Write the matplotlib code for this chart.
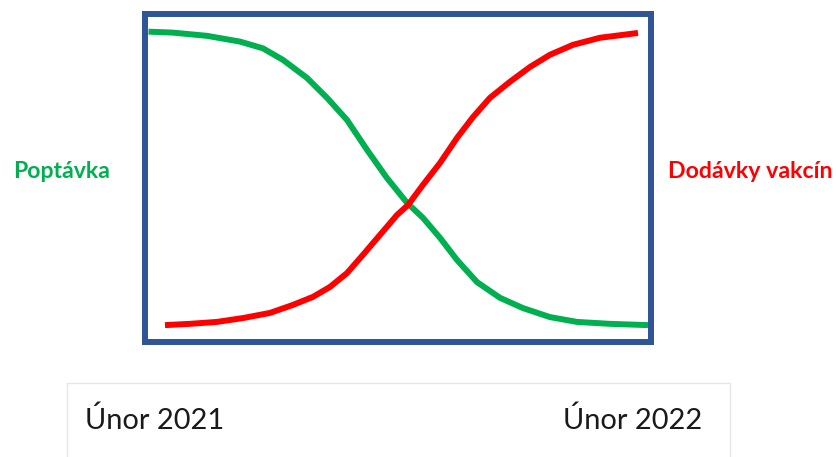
import matplotlib
matplotlib.use("Agg")
import matplotlib.pyplot as plt
from matplotlib.patches import Rectangle

# time across the year (0 = Únor 2021, 100 = Únor 2022) and level in %
demand_t = [0.1, 5, 11.8, 18.4, 23, 27, 31.8, 35.8, 39.8, 43.8, 47.8, 51.8,
            55, 58.4, 61.8, 65.8, 70.4, 75, 80.4, 85.8, 92.4, 100]
demand_v = [95.4, 95.1, 94.1, 92.3, 90.2, 86.6, 81.0, 74.8, 67.9, 58.6, 49.8, 42.1,
            37.4, 31.2, 24.3, 17.4, 12.5, 9.3, 6.5, 5.0, 4.4, 4.0]

supply_t = [3.4, 8.4, 13.8, 19, 24.4, 29, 33, 36.4, 39.8, 43, 46.4, 49.8, 52,
            55, 58.4, 61.8, 65, 68.4, 72.4, 76.4, 80.4, 85, 90.4, 95, 98]
supply_v = [4.0, 4.4, 5.0, 6.2, 7.8, 10.3, 12.8, 15.9, 20.2, 25.9, 32.1, 38.3, 41.4,
            47.7, 54.5, 62.3, 68.8, 74.8, 79.8, 84.4, 88.2, 91.3, 93.5, 94.4, 95.0]

labels = ["Poptávka", "Dodávky vakcín"]
dates = ["Únor 2021", "Únor 2022"]

green = "#00B050"
red = "#FF0000"
W, H = 836, 457

fig = plt.figure(figsize=(W / 100, H / 100), dpi=100)

ax = fig.add_axes([145 / W, 1 - 341.5 / H, 506 / W, 327.5 / H])
ax.plot(demand_t, demand_v, color=green, lw=4.3, solid_capstyle="butt", solid_joinstyle="round")
ax.plot(supply_t, supply_v, color=red, lw=4.3, solid_capstyle="butt", solid_joinstyle="round")
ax.set_xlim(-0.6, 100.6)
ax.set_ylim(-1.1, 100.9)
ax.set_xticks([])
ax.set_yticks([])
for s in ax.spines.values():
    s.set_color("#2F5597")
    s.set_linewidth(4.3)

fig.text(13 / W, 1 - 172 / H, labels[0], color=green, fontsize=16.6, fontweight="bold",
         family="Lato", ha="left", va="center")
fig.text(668 / W, 1 - 172 / H, labels[1], color=red, fontsize=16.7, fontweight="bold",
         family="Lato", ha="left", va="center")

# bottom date strip
fig.patches.append(Rectangle((67 / W, -0.01), 663 / W, (457 - 383) / H + 0.01,
                             transform=fig.transFigure, facecolor="white",
                             edgecolor="#E6E6E6", lw=1))
fig.text(85 / W, 1 - 429 / H, dates[0], fontsize=20.9, family="Lato", color="#1a1a1a",
         ha="left", va="baseline")
fig.text(702 / W, 1 - 429 / H, dates[1], fontsize=20.9, family="Lato", color="#1a1a1a",
         ha="right", va="baseline")

fig.savefig("out.png", dpi=100)
